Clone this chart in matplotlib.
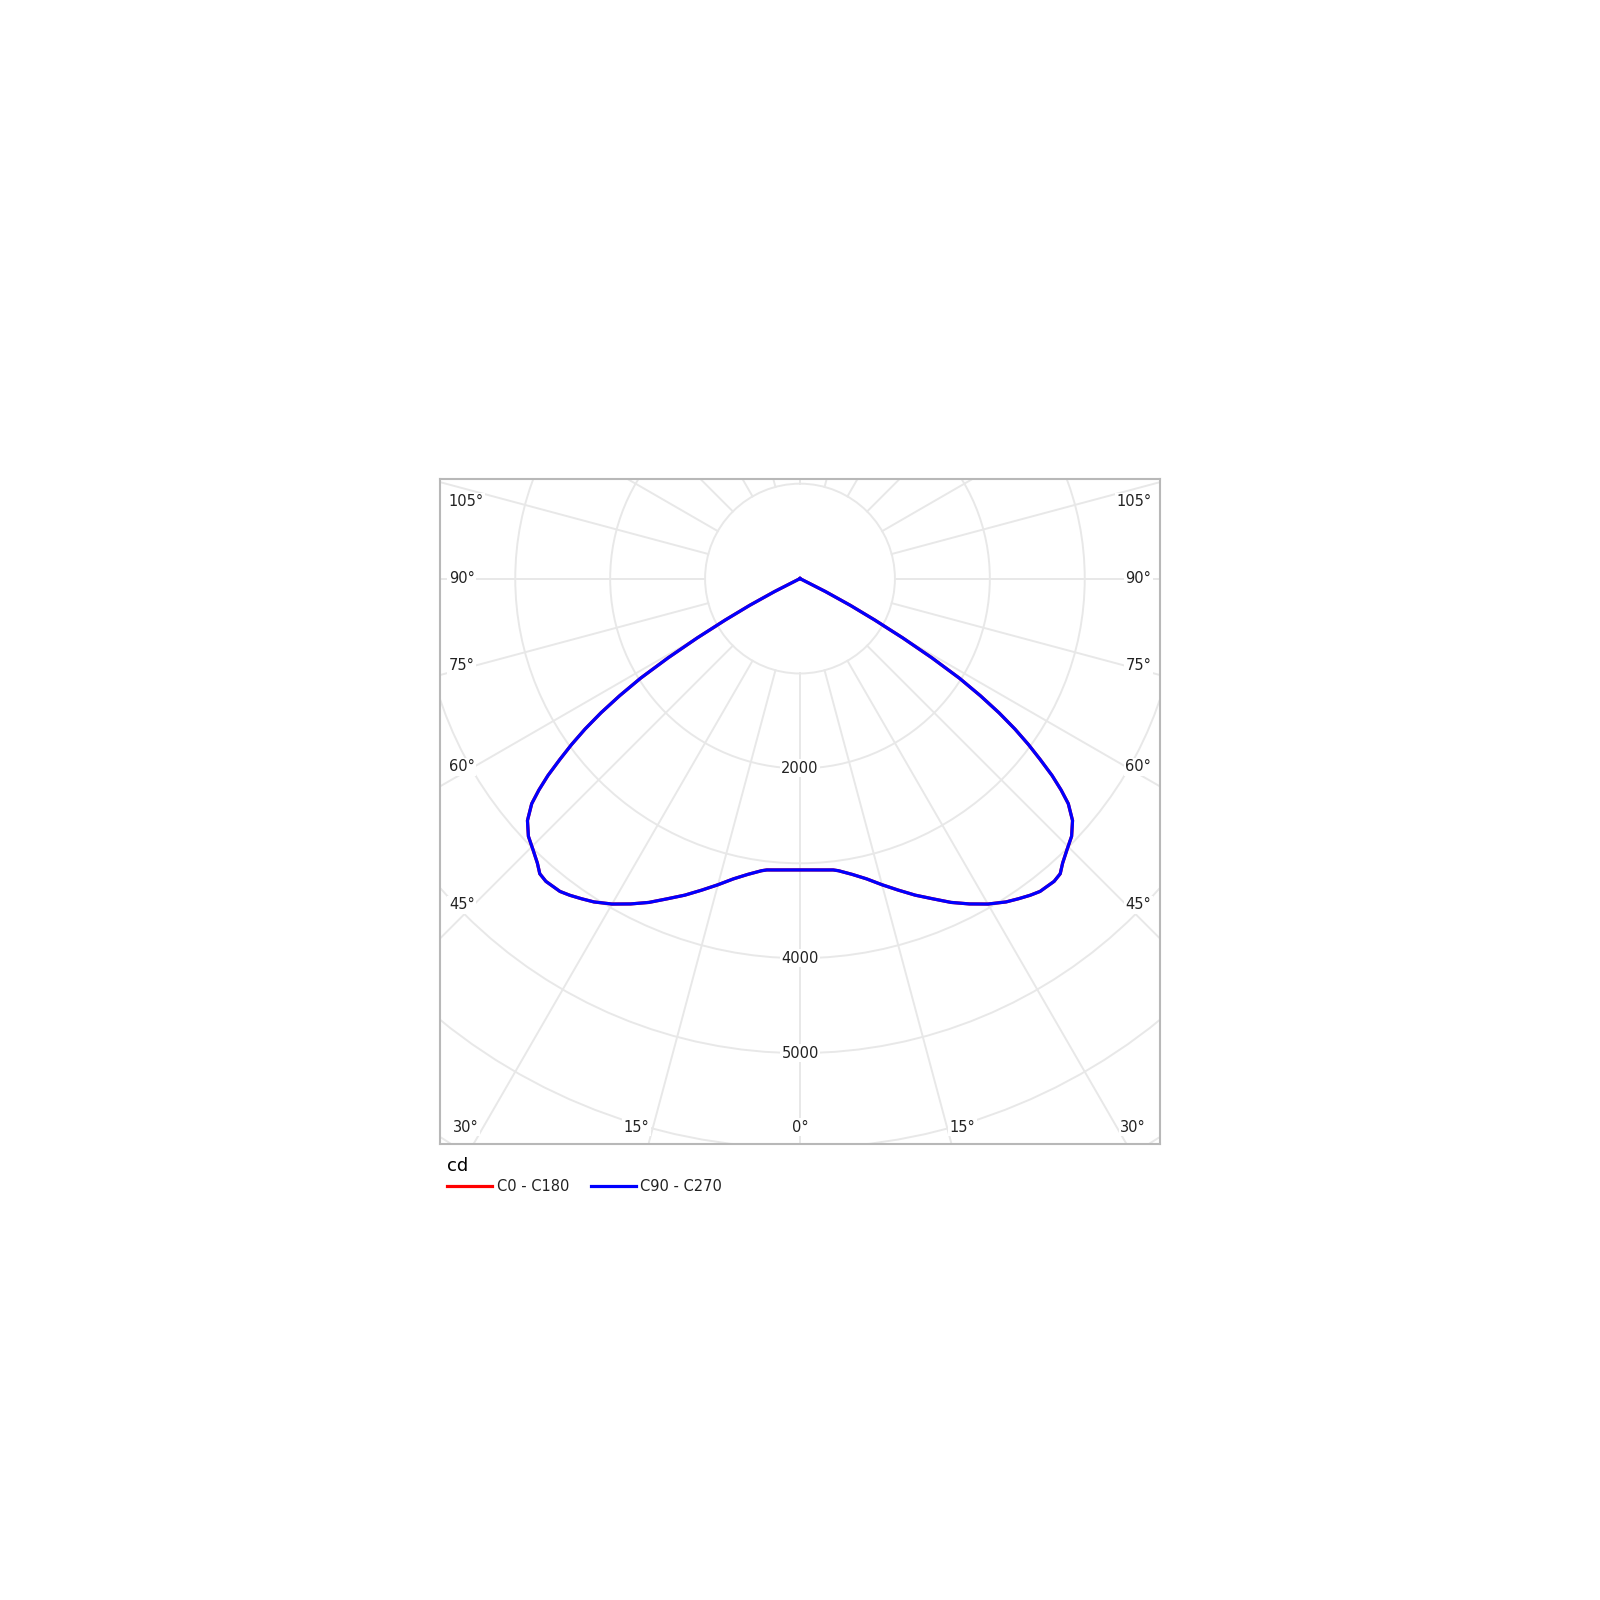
import numpy as np
import matplotlib
matplotlib.use("Agg")
from matplotlib import pyplot as plt
from matplotlib.patches import Circle
from matplotlib.lines import Line2D

# luminous intensity (cd) vs gamma angle (symmetric)
gammas = [0, 2.5, 5, 6.5, 7.5, 10, 12.5, 15, 17.5, 20, 22.5, 25, 27.5, 30,
          32.5, 34.3, 36, 37.5, 40, 41.4, 42.7, 44.6, 46.5, 48.4, 50, 51,
          52, 53, 54, 55, 56, 57, 58, 59, 60, 61, 62, 63, 64, 70, 80, 90]
c90_cd = [3070, 3073, 3082, 3090, 3105, 3165, 3241, 3340, 3442, 3550, 3652,
          3765, 3865, 3960, 4040, 4084, 4125, 4155, 4165, 4146, 4080, 4008,
          3945, 3840, 3690, 3540, 3370, 3170, 2975, 2765, 2530, 2265, 1980,
          1620, 1250, 900, 600, 300, 0, 0, 0, 0]
c0_cd = c90_cd  # C0-C180 lies under the C90-C270 curve

rings = [1000, 2000, 3000, 4000, 5000, 6000, 7000, 8000]
ring_labels = [2000, 4000, 5000]
spokes = np.arange(0, 360, 15)

side_labels = ["105°", "90°", "75°", "60°", "45°"]
side_y = [811, 0, -917, -1981, -3435]
bottom_labels = ["30°", "15°", "0°", "15°", "30°"]
bottom_x = [-3525, -1723, 0, 1712, 3509]

grid_c = "#e8e8e8"
txt_c = "#222222"


def to_xy(g, r, side):
    g = np.radians(np.asarray(g, dtype=float))
    r = np.asarray(r, dtype=float)
    return side * r * np.sin(g), -r * np.cos(g)


def both_halves(vals):
    xl, yl = to_xy(gammas, vals, -1)
    xr, yr = to_xy(gammas, vals, 1)
    return np.r_[xl[::-1], xr[1:]], np.r_[yl[::-1], yr[1:]]


fig = plt.figure(figsize=(16, 16), dpi=100)
ax = fig.add_axes([0.275, 0.285, 0.45, 0.4159])
ax.set_xlim(-3793, 3793)
ax.set_ylim(-5958, 1054)

# grid
for r in rings:
    ax.add_patch(Circle((0, 0), r, fill=False, ec=grid_c, lw=1.4, zorder=1))
for a in spokes:
    x0, y0 = to_xy(a, 1000, 1)
    x1, y1 = to_xy(a, 12000, 1)
    ax.plot([x0, x1], [y0, y1], color=grid_c, lw=1.4, zorder=1)

# curves
x, y = both_halves(c0_cd)
ax.plot(x, y, color="#ff0000", lw=2.3, zorder=3, solid_joinstyle="round")
x, y = both_halves(c90_cd)
ax.plot(x, y, color="#0000ff", lw=2.3, zorder=4, solid_joinstyle="round")

box = dict(facecolor="white", edgecolor="none", pad=1.0)
for v in ring_labels:
    ax.text(0, -v, str(v), ha="center", va="center", fontsize=10.5, color=txt_c, bbox=box, zorder=2)
for lab, yy in zip(side_labels, side_y):
    ax.text(-3700, yy, lab, ha="left", va="center", fontsize=10.5, color=txt_c, bbox=box, zorder=2)
    ax.text(3700, yy, lab, ha="right", va="center", fontsize=10.5, color=txt_c, bbox=box, zorder=2)
for lab, xx in zip(bottom_labels, bottom_x):
    ax.text(xx, -5780, lab, ha="center", va="center", fontsize=10.5, color=txt_c, bbox=box, zorder=2)

ax.set_xticks([])
ax.set_yticks([])
for s in ax.spines.values():
    s.set_color("#b8b8b8")
    s.set_linewidth(1.5)

handles = [Line2D([], [], color="#ff0000", lw=2.3), Line2D([], [], color="#0000ff", lw=2.3)]
ax.legend(handles, ["C0 - C180", "C90 - C270"], title="cd", loc="upper left",
          bbox_to_anchor=(0.0097, -0.019), ncol=2, frameon=False, fontsize=10.5,
          title_fontsize=13, handlelength=3.1, handletextpad=0.3,
          columnspacing=1.5, borderpad=0, borderaxespad=0, alignment="left",
          labelspacing=0.3, labelcolor=txt_c)

fig.savefig("out.png", dpi=100, facecolor="white")
